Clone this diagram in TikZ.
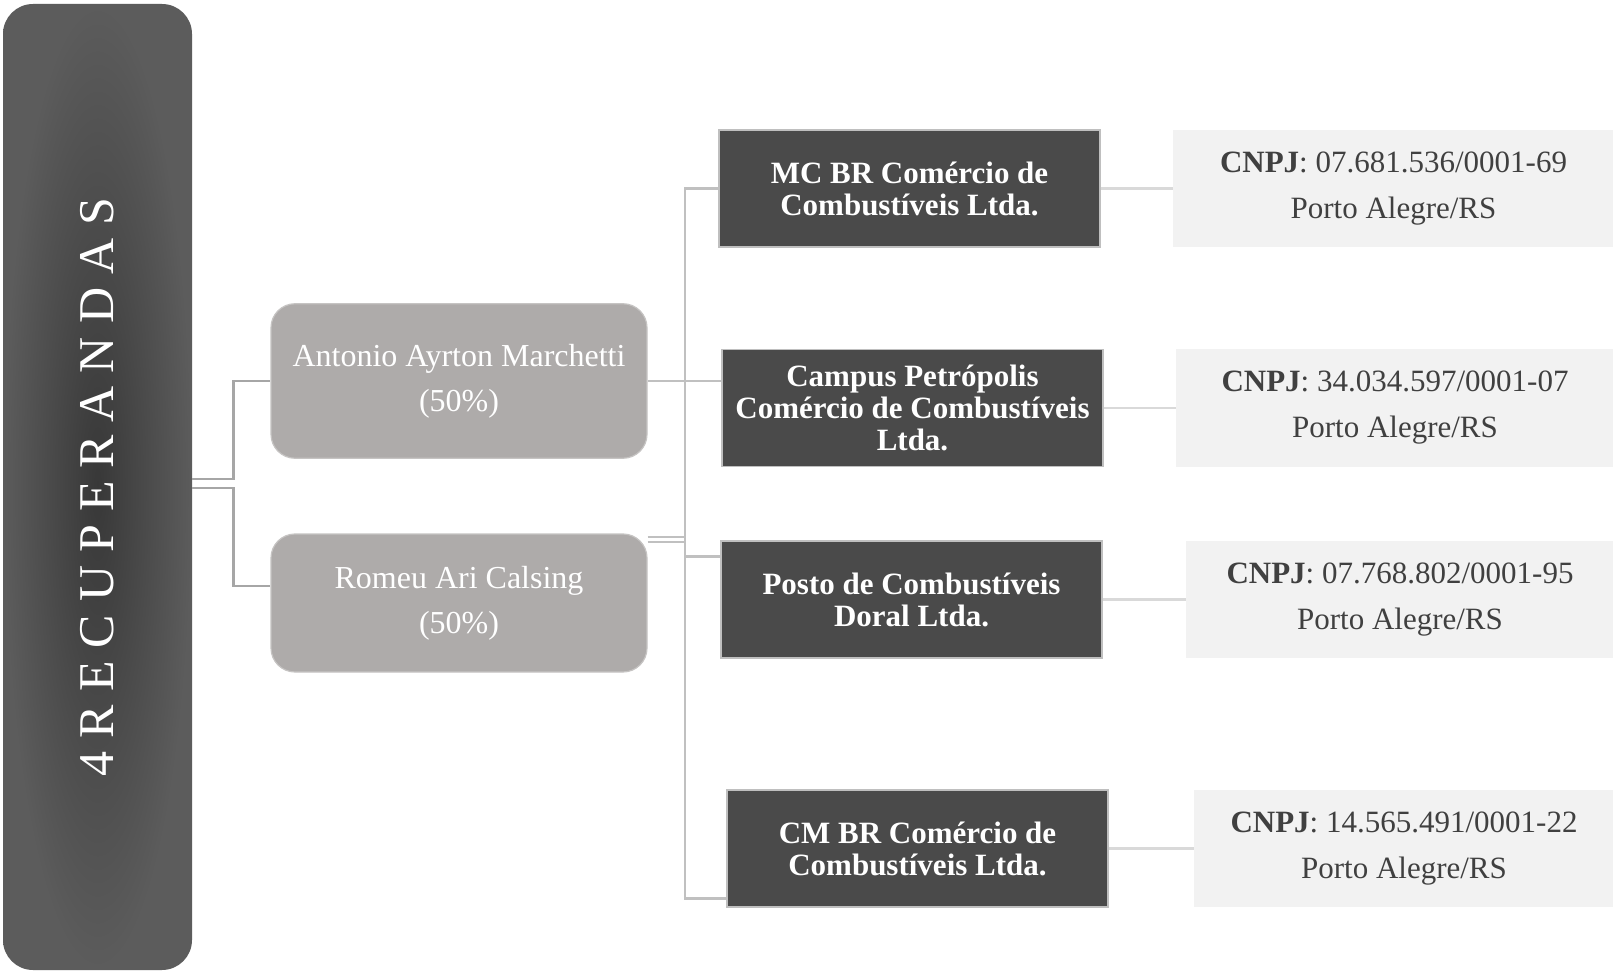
\documentclass[tikz,border=0pt]{standalone}
\usepackage{fontspec}
\setmainfont{Liberation Serif}
\usepackage{tikz}
\usetikzlibrary{positioning}
\definecolor{barmid}{HTML}{383838}
\definecolor{barrim}{HTML}{5C5C5C}
\definecolor{ownergray}{HTML}{AEABAA}
\definecolor{firmgray}{HTML}{4A4A4A}
\definecolor{cnpjgray}{HTML}{F2F2F2}
\definecolor{cnpjtext}{HTML}{404040}
\definecolor{elbow}{HTML}{A6A6A6}
\definecolor{trunkgray}{HTML}{C0C0C0}
\definecolor{taillight}{HTML}{D9D9D9}
\newcommand{\tr}{\kern6.5pt}

\begin{document}
\begin{tikzpicture}[
x=0.5pt, y=-0.5pt,
titlebar/.style={rectangle, rounded corners=15pt, inner sep=0pt, minimum width=94.5pt, minimum height=483pt, inner color=barmid, outer color=barrim},
owner/.style={rectangle, rounded corners=12pt, fill=ownergray, draw=ownergray!70!white, line width=0.6pt, text=white, minimum width=188pt, align=center, font=\fontsize{16}{22.5}\selectfont},
firm/.style={rectangle, fill=firmgray, draw=black!25, line width=0.6pt, text=white, minimum width=190.5pt, minimum height=58.5pt, inner sep=0pt, align=center, font=\fontsize{15.5}{16}\selectfont\bfseries},
cnpj/.style={rectangle, fill=cnpjgray, text=cnpjtext, minimum height=58.5pt, inner sep=0pt, align=center, font=\fontsize{15.5}{23}\selectfont},
link/.style={draw=trunkgray, line width=1.3pt},
elbowlink/.style={link, draw=elbow},
taillink/.style={link, draw=taillight}
]
\useasboundingbox[fill=white] (0,0) rectangle (1613,973);

\node[titlebar] (bar) at (97.5,487) {};
\node[rotate=90, text=white, font=\fontsize{25}{25}\selectfont] (title) at (bar.center)
  {4\tr R\tr E\tr C\tr U\tr P\tr E\tr R\tr A\tr N\tr D\tr A\tr S};

\node[owner, minimum height=77.25pt] (anto) at (459,381) {Antonio Ayrton Marchetti\\(50\%)};
\node[owner, minimum height=69pt] (romeu) at (459,603) {Romeu Ari Calsing\\(50\%)};

\node[firm] (mc) at (909.5,188.5) {MC BR Comércio de\\Combustíveis Ltda.};
\node[firm] (camp) at (912.5,408) {Campus Petrópolis\\Comércio de Combustíveis\\Ltda.};
\node[firm] (posto) at (911.5,599.5) {Posto de Combustíveis\\Doral Ltda.};
\node[firm] (cm) at (917.5,848.5) {CM BR Comércio de\\Combustíveis Ltda.};

\node[cnpj, minimum width=220.5pt, right=36pt of mc] (c1) {\textbf{CNPJ}: 07.681.536/0001-69\\Porto Alegre/RS};
\node[cnpj, minimum width=219pt, right=36pt of camp] (c2) {\textbf{CNPJ}: 34.034.597/0001-07\\Porto Alegre/RS};
\node[cnpj, minimum width=214pt, right=41.5pt of posto] (c3) {\textbf{CNPJ}: 07.768.802/0001-95\\Porto Alegre/RS};
\node[cnpj, minimum width=210pt, right=42.5pt of cm] (c4) {\textbf{CNPJ}: 14.565.491/0001-22\\Porto Alegre/RS};

\draw[elbowlink] ([yshift=4pt]bar.east) -- ++(20.5pt,0) |- (anto.west);
\draw[elbowlink] ([yshift=-0.5pt]bar.east) -- ++(20.5pt,0) |- ([yshift=8.5pt]romeu.west);

\coordinate (trunk) at (685,0);
\coordinate (postin) at ([yshift=21.5pt]posto.west);
\coordinate (cmin) at ([yshift=-25pt]cm.west);
\draw[link] (anto.east) -- (camp.west |- anto.east);
\draw[link] (mc.west) -- (trunk |- mc.west) -- (trunk |- cmin) -- (cmin);
\draw[link] (trunk |- postin) -- (postin);
\draw[link] ([yshift=33pt]romeu.east) -- ++(19pt,0);
\draw[link] ([yshift=30.5pt]romeu.east) -- ++(19pt,0);

\draw[taillink] (mc) -- (c1);
\draw[taillink] (camp) -- (c2);
\draw[taillink] (posto) -- (c3);
\draw[taillink] (cm) -- (c4);
\end{tikzpicture}
\end{document}
